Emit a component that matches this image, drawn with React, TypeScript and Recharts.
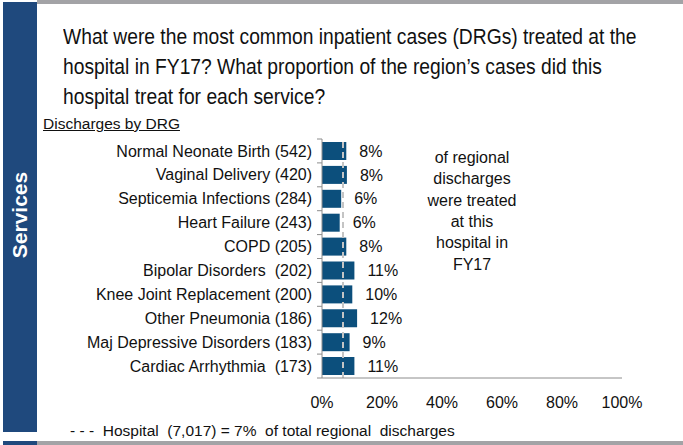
import { Bar, BarChart, LabelList, ReferenceLine, XAxis, YAxis } from "recharts";

const categories = [
  "Normal Neonate Birth (542)",
  "Vaginal Delivery (420)",
  "Septicemia Infections (284)",
  "Heart Failure (243)",
  "COPD (205)",
  "Bipolar Disorders  (202)",
  "Knee Joint Replacement (200)",
  "Other Pneumonia (186)",
  "Maj Depressive Disorders (183)",
  "Cardiac Arrhythmia  (173)",
];
const shares = [8.1, 8.3, 6.4, 5.9, 8.1, 10.8, 10.1, 11.7, 9.2, 10.8];
const shareLabels = ["8%", "8%", "6%", "6%", "8%", "11%", "10%", "12%", "9%", "11%"];
const xTicks = [0, 20, 40, 60, 80, 100];
const hospitalShare = 7;

const titleLines = [
  "What were the most common inpatient cases (DRGs) treated at the",
  "hospital in FY17? What proportion of the region\u2019s cases did this",
  "hospital treat for each service?",
];
const noteLines = ["of regional", "discharges", "were treated", "at this", "hospital in", "FY17"];

const data = categories.map((c, i) => ({ category: c, share: shares[i], label: shareLabels[i] }));

const FONT = '"Liberation Sans", Arial, sans-serif';
const BAR = "#0c4f7c";
const SIDE = "#1f497d";
const AXIS = "#8c8c8c";

const TOP = 139;
const BOTTOM_Y = 378;
const BAND = (BOTTOM_Y - TOP) / categories.length;

function CategoryTick(props: any) {
  const { x, y, payload, index } = props;
  const last = index === categories.length - 1;
  return (
    <g>
      <line x1={x - 5} x2={x} y1={y - BAND / 2} y2={y - BAND / 2} stroke={AXIS} />
      {last && <line x1={x - 5} x2={x} y1={y + BAND / 2} y2={y + BAND / 2} stroke={AXIS} />}
      <text
        x={x - 10}
        y={y}
        dy="0.35em"
        textAnchor="end"
        fill="#111"
        fontSize={16}
        style={{ whiteSpace: "pre" }}
      >
        {payload.value}
      </text>
    </g>
  );
}

function ShareLabel(props: any) {
  const { x, y, width, height, value } = props;
  return (
    <text x={x + width + 13} y={y + height / 2} dy="0.35em" fill="#111" fontSize={16}>
      {value}
    </text>
  );
}

export default function App() {
  return (
    <div
      style={{
        position: "absolute",
        left: 0,
        top: 0,
        width: 683,
        height: 445,
        background: "#fff",
        overflow: "hidden",
        fontFamily: FONT,
        color: "#111",
      }}
    >
      <div style={{ position: "absolute", left: 37, top: 0, width: 646, height: 4, background: "#a3a3a6" }} />
      <div style={{ position: "absolute", left: 3, top: 2, width: 34, height: 430, background: SIDE }} />
      <div style={{ position: "absolute", left: 3, top: 441, width: 680, height: 4, background: "#a3a3a6" }} />
      <div style={{ position: "absolute", left: 3, top: 441, width: 34, height: 4, background: SIDE }} />
      <div
        style={{
          position: "absolute",
          left: 20,
          top: 215,
          transform: "translate(-50%, -50%) rotate(-90deg)",
          color: "#fff",
          fontWeight: "bold",
          fontSize: 21,
          whiteSpace: "nowrap",
        }}
      >
        Services
      </div>

      {titleLines.map((t, i) => (
        <div
          key={i}
          style={{
            position: "absolute",
            left: 63,
            top: 22 + i * 30,
            fontSize: 22,
            lineHeight: "30px",
            whiteSpace: "nowrap",
            transform: "scaleX(0.875)",
            transformOrigin: "left center",
          }}
        >
          {t}
        </div>
      ))}
      <div
        style={{
          position: "absolute",
          left: 43,
          top: 115,
          fontSize: 15.5,
          textDecoration: "underline",
          whiteSpace: "nowrap",
        }}
      >
        Discharges by DRG
      </div>

      <div style={{ position: "absolute", left: 0, top: 0 }}>
        <BarChart
          width={683}
          height={445}
          layout="vertical"
          data={data}
          margin={{ top: TOP, right: 61, bottom: 27, left: 0 }}
          style={{ fontFamily: FONT }}
        >
          <XAxis
            type="number"
            domain={[0, 100]}
            ticks={xTicks}
            tickFormatter={(v) => `${v}%`}
            tickLine={false}
            axisLine={{ stroke: AXIS }}
            tick={{ fill: "#111", fontSize: 16 }}
            tickMargin={13}
            height={40}
          />
          <YAxis
            type="category"
            dataKey="category"
            width={322}
            tickLine={false}
            axisLine={{ stroke: AXIS }}
            tick={<CategoryTick />}
            tickMargin={0}
            tickSize={0}
            interval={0}
          />
          <Bar dataKey="share" fill={BAR} barSize={18} isAnimationActive={false}>
            <LabelList dataKey="label" content={<ShareLabel />} />
          </Bar>
          <ReferenceLine x={hospitalShare} stroke="#c4c4c4" strokeWidth={2} strokeDasharray="6 4" />
        </BarChart>
      </div>

      {noteLines.map((t, i) => (
        <div
          key={i}
          style={{
            position: "absolute",
            left: 472,
            top: 148 + i * 21.3,
            transform: "translateX(-50%)",
            fontSize: 16,
            lineHeight: "20px",
            whiteSpace: "nowrap",
          }}
        >
          {t}
        </div>
      ))}

      <div
        style={{
          position: "absolute",
          left: 70,
          top: 421,
          fontSize: 15.5,
          lineHeight: "20px",
          whiteSpace: "pre",
        }}
      >
        {"- - -  Hospital  (7,017) = 7%  of total regional  discharges"}
      </div>
    </div>
  );
}
